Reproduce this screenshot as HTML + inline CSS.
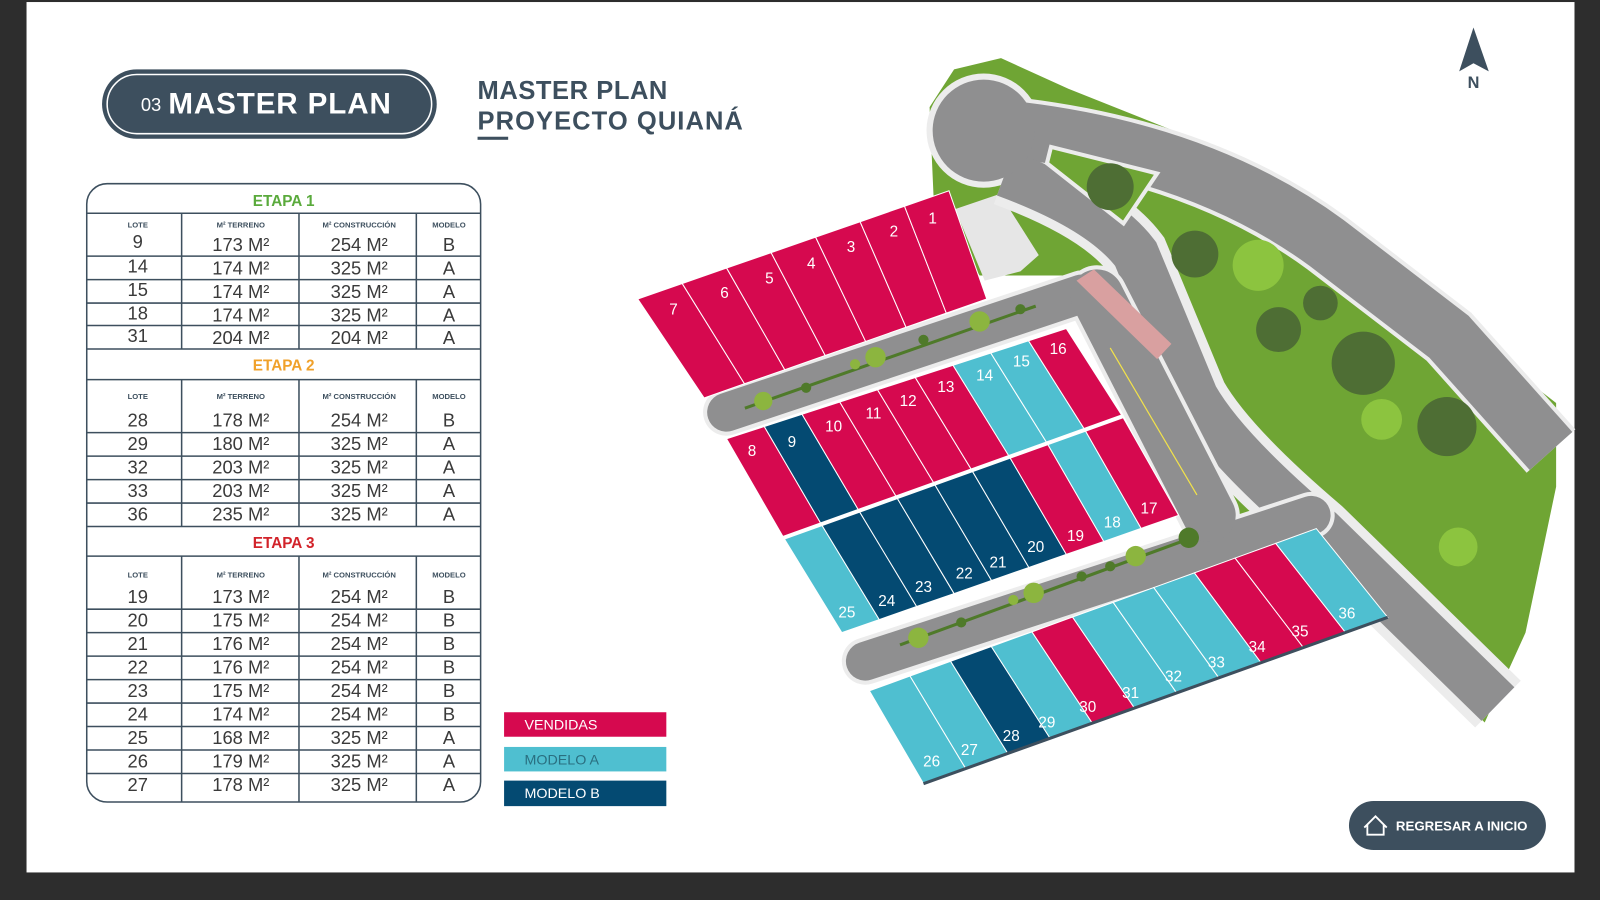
<!DOCTYPE html>
<html><head><meta charset="utf-8"><style>
html,body{margin:0;padding:0;background:#2d2d2d;width:1600px;height:900px;overflow:hidden}
svg{display:block}
text{font-family:"Liberation Sans",sans-serif}
.n{font-size:18px;fill:#3a3a3a;text-anchor:middle}
.h{font-size:7.5px;font-weight:bold;fill:#3d4f5e;text-anchor:middle}
.et{font-size:15px;font-weight:bold;text-anchor:middle}
.lb{font-size:15px;fill:#fff;text-anchor:middle}
</style></head><body>
<svg width="1600" height="900" viewBox="0 0 1568 882" preserveAspectRatio="none" xmlns="http://www.w3.org/2000/svg">
<rect x="0" y="0" width="1568" height="882" fill="#2d2d2d"/>
<rect x="26" y="2" width="1517" height="853" fill="#fff"/>

<!-- title pill -->
<rect x="100" y="68" width="328" height="68" rx="34" fill="#3d4f5e"/>
<rect x="105" y="73" width="318" height="58" rx="29" fill="none" stroke="#fff" stroke-width="1.5"/>
<text x="138" y="109" style="font-size:18px;fill:#fff">03</text>
<text x="165" y="111" textLength="218" style="font-size:29px;font-weight:bold;fill:#fff">MASTER PLAN</text>
<text x="468" y="97" textLength="186" style="font-size:25px;font-weight:bold;fill:#3d4f5e">MASTER PLAN</text>
<text x="468" y="127" textLength="260" style="font-size:25px;font-weight:bold;fill:#3d4f5e">PROYECTO QUIANÁ</text>
<rect x="468" y="134" width="30" height="3" fill="#3d4f5e"/>

<!-- table -->
<g stroke="#3d4f5e" stroke-width="1.5" fill="none">
<rect x="85" y="180" width="386" height="606" rx="20"/>
<line x1="85" y1="209" x2="471" y2="209"/>
<line x1="85" y1="251" x2="471" y2="251"/><line x1="85" y1="274" x2="471" y2="274"/><line x1="85" y1="297" x2="471" y2="297"/><line x1="85" y1="319" x2="471" y2="319"/><line x1="85" y1="342" x2="471" y2="342"/>
<line x1="85" y1="372" x2="471" y2="372"/>
<line x1="85" y1="424" x2="471" y2="424"/><line x1="85" y1="447" x2="471" y2="447"/><line x1="85" y1="470" x2="471" y2="470"/><line x1="85" y1="493" x2="471" y2="493"/><line x1="85" y1="516" x2="471" y2="516"/>
<line x1="85" y1="545" x2="471" y2="545"/>
<line x1="85" y1="597" x2="471" y2="597"/><line x1="85" y1="620" x2="471" y2="620"/><line x1="85" y1="643" x2="471" y2="643"/><line x1="85" y1="666" x2="471" y2="666"/><line x1="85" y1="689" x2="471" y2="689"/><line x1="85" y1="712" x2="471" y2="712"/><line x1="85" y1="735" x2="471" y2="735"/><line x1="85" y1="758" x2="471" y2="758"/>
<line x1="178" y1="209" x2="178" y2="342"/><line x1="293" y1="209" x2="293" y2="342"/><line x1="408" y1="209" x2="408" y2="342"/>
<line x1="178" y1="372" x2="178" y2="516"/><line x1="293" y1="372" x2="293" y2="516"/><line x1="408" y1="372" x2="408" y2="516"/>
<line x1="178" y1="545" x2="178" y2="786"/><line x1="293" y1="545" x2="293" y2="786"/><line x1="408" y1="545" x2="408" y2="786"/>
</g>
<text x="278" y="202" class="et" fill="#5aaa3c">ETAPA 1</text>
<text x="278" y="363" class="et" fill="#f0a12a">ETAPA 2</text>
<text x="278" y="537" class="et" fill="#d2232a">ETAPA 3</text>
<g>
<text x="135" y="223" class="h">LOTE</text><text x="236" y="223" class="h">M² TERRENO</text><text x="352" y="223" class="h">M² CONSTRUCCIÓN</text><text x="440" y="223" class="h">MODELO</text>
<text x="135" y="391" class="h">LOTE</text><text x="236" y="391" class="h">M² TERRENO</text><text x="352" y="391" class="h">M² CONSTRUCCIÓN</text><text x="440" y="391" class="h">MODELO</text>
<text x="135" y="566" class="h">LOTE</text><text x="236" y="566" class="h">M² TERRENO</text><text x="352" y="566" class="h">M² CONSTRUCCIÓN</text><text x="440" y="566" class="h">MODELO</text>
</g>
<g>
<text x="135" y="243" class="n">9</text><text x="236" y="246" class="n">173 M²</text><text x="352" y="246" class="n">254 M²</text><text x="440" y="246" class="n">B</text>
<text x="135" y="267" class="n">14</text><text x="236" y="269" class="n">174 M²</text><text x="352" y="269" class="n">325 M²</text><text x="440" y="269" class="n">A</text>
<text x="135" y="290" class="n">15</text><text x="236" y="292" class="n">174 M²</text><text x="352" y="292" class="n">325 M²</text><text x="440" y="292" class="n">A</text>
<text x="135" y="313" class="n">18</text><text x="236" y="315" class="n">174 M²</text><text x="352" y="315" class="n">325 M²</text><text x="440" y="315" class="n">A</text>
<text x="135" y="335" class="n">31</text><text x="236" y="337" class="n">204 M²</text><text x="352" y="337" class="n">204 M²</text><text x="440" y="337" class="n">A</text>

<text x="135" y="418" class="n">28</text><text x="236" y="418" class="n">178 M²</text><text x="352" y="418" class="n">254 M²</text><text x="440" y="418" class="n">B</text>
<text x="135" y="441" class="n">29</text><text x="236" y="441" class="n">180 M²</text><text x="352" y="441" class="n">325 M²</text><text x="440" y="441" class="n">A</text>
<text x="135" y="464" class="n">32</text><text x="236" y="464" class="n">203 M²</text><text x="352" y="464" class="n">325 M²</text><text x="440" y="464" class="n">A</text>
<text x="135" y="487" class="n">33</text><text x="236" y="487" class="n">203 M²</text><text x="352" y="487" class="n">325 M²</text><text x="440" y="487" class="n">A</text>
<text x="135" y="510" class="n">36</text><text x="236" y="510" class="n">235 M²</text><text x="352" y="510" class="n">325 M²</text><text x="440" y="510" class="n">A</text>

<text x="135" y="591" class="n">19</text><text x="236" y="591" class="n">173 M²</text><text x="352" y="591" class="n">254 M²</text><text x="440" y="591" class="n">B</text>
<text x="135" y="614" class="n">20</text><text x="236" y="614" class="n">175 M²</text><text x="352" y="614" class="n">254 M²</text><text x="440" y="614" class="n">B</text>
<text x="135" y="637" class="n">21</text><text x="236" y="637" class="n">176 M²</text><text x="352" y="637" class="n">254 M²</text><text x="440" y="637" class="n">B</text>
<text x="135" y="660" class="n">22</text><text x="236" y="660" class="n">176 M²</text><text x="352" y="660" class="n">254 M²</text><text x="440" y="660" class="n">B</text>
<text x="135" y="683" class="n">23</text><text x="236" y="683" class="n">175 M²</text><text x="352" y="683" class="n">254 M²</text><text x="440" y="683" class="n">B</text>
<text x="135" y="706" class="n">24</text><text x="236" y="706" class="n">174 M²</text><text x="352" y="706" class="n">254 M²</text><text x="440" y="706" class="n">B</text>
<text x="135" y="729" class="n">25</text><text x="236" y="729" class="n">168 M²</text><text x="352" y="729" class="n">325 M²</text><text x="440" y="729" class="n">A</text>
<text x="135" y="752" class="n">26</text><text x="236" y="752" class="n">179 M²</text><text x="352" y="752" class="n">325 M²</text><text x="440" y="752" class="n">A</text>
<text x="135" y="775" class="n">27</text><text x="236" y="775" class="n">178 M²</text><text x="352" y="775" class="n">325 M²</text><text x="440" y="775" class="n">A</text>
</g>

<!-- legend -->
<rect x="494" y="698" width="159" height="24" fill="#d6094f"/>
<text x="514" y="715" style="font-size:14px;fill:#fff">VENDIDAS</text>
<rect x="494" y="732" width="159" height="24" fill="#4fbfd0"/>
<text x="514" y="749" style="font-size:14px;fill:#2a6f80">MODELO A</text>
<rect x="494" y="765" width="159" height="25" fill="#044a72"/>
<text x="514" y="782" style="font-size:14px;fill:#fff">MODELO B</text>

<!-- button -->
<rect x="1322" y="785" width="193" height="48" rx="24" fill="#3d4f5e"/>
<path d="M1337 811 L1348 800 L1359 811 M1340 808 V818 H1356 V808" fill="none" stroke="#fff" stroke-width="1.8"/>
<text x="1368" y="814" style="font-size:13px;font-weight:bold;fill:#fff">REGRESAR A INICIO</text>

<!-- north -->
<path d="M1444 27 L1459 70 L1444 62 L1430 70 Z" fill="#3d4f5e"/>
<text x="1444" y="86" style="font-size:16px;font-weight:bold;fill:#3d4f5e;text-anchor:middle">N</text>

<!-- map: green base -->
<polygon points="911,105 935,68 981,57 1047,87 1180,140 1300,205 1400,280 1480,360 1525,395 1525,477 1495,620 1455,708 1330,580 1212,512 1113,310 1060,270 960,270 915,195" fill="#6fa534"/>
<polygon points="936,205 980,190 1018,250 1000,266 965,275" fill="#e6e6e6"/>
<!-- roads -->
<g fill="none" stroke="#ececec" stroke-width="64">
<path d="M1000 128 Q1180 150 1300 238 L1420 330 L1520 442"/>
<path d="M985 170 Q1080 205 1113 249 L1171 389 Q1200 440 1294 520 L1468 690"/>
</g>
<circle cx="964" cy="128" r="56" fill="#ececec"/>
<g fill="none" stroke="#8f8f90">
<path d="M1000 128 Q1180 150 1300 238 L1420 330 L1520 442" stroke-width="56"/>
<path d="M985 170 Q1080 205 1113 249 L1171 389 Q1200 440 1294 520 L1468 690" stroke-width="46"/>
</g>
<circle cx="964" cy="128" r="50" fill="#8f8f90"/>
<polygon points="1030,144 1134,170 1101,219 1026,160" fill="#6fa534" stroke="#ececec" stroke-width="4"/>
<circle cx="1088" cy="183" r="23" fill="#4e6e34"/>
<g fill="#4e6e34"><circle cx="1171" cy="249" r="23"/><circle cx="1294" cy="297" r="17"/><circle cx="1253" cy="323" r="22"/><circle cx="1336" cy="356" r="31"/><circle cx="1418" cy="418" r="29"/></g>
<g fill="#8cc43f"><circle cx="1233" cy="260" r="25"/><circle cx="1354" cy="411" r="20"/><circle cx="1429" cy="536" r="19"/></g>
<!-- internal roads -->
<g fill="none" stroke-linecap="round" stroke="#ececec" stroke-width="46">
<path d="M712 404 L1060 288"/><path d="M848 648 L1285 505"/>
</g>
<path d="M1075 290 L1185 505" stroke="#ececec" stroke-width="60" stroke-linecap="round"/>
<g fill="none" stroke-linecap="round" stroke="#8f8f90" stroke-width="38">
<path d="M712 404 L1060 288"/><path d="M848 648 L1285 505"/>
</g>
<path d="M1075 290 L1185 505" stroke="#8f8f90" stroke-width="52" stroke-linecap="round"/>
<polygon points="1055,275 1072,264 1148,337 1134,352" fill="#d9a0a0"/>
<line x1="1088" y1="341" x2="1173" y2="485" stroke="#f2e24a" stroke-width="1.2"/>
<g stroke="#4f7a2a" stroke-width="3"><line x1="730" y1="400" x2="1015" y2="300"/><line x1="882" y1="632" x2="1168" y2="527"/></g>
<g fill="#8cb53f"><circle cx="748" cy="393" r="9"/><circle cx="858" cy="350" r="10"/><circle cx="838" cy="357" r="5"/><circle cx="960" cy="315" r="10"/><circle cx="900" cy="625" r="10"/><circle cx="1013" cy="581" r="10"/><circle cx="993" cy="588" r="5"/><circle cx="1113" cy="545" r="10"/></g>
<g fill="#4f7a2a"><circle cx="790" cy="380" r="5"/><circle cx="905" cy="333" r="5"/><circle cx="1000" cy="303" r="5"/><circle cx="942" cy="610" r="5"/><circle cx="1060" cy="565" r="5"/><circle cx="1088" cy="555" r="5"/><circle cx="1165" cy="527" r="10"/></g>
<!-- lots -->
<g id="lots" stroke="#fff" stroke-width="1"></g>
<polyline points="768,527 1100,408" stroke="#fff" stroke-width="4"/>
<polyline points="905,768 1360,605" stroke="#3d4f5e" stroke-width="3"/>
<g class="lb">
<text x="660" y="308" class="lb">7</text><text x="710" y="292" class="lb">6</text><text x="754" y="278" class="lb">5</text><text x="795" y="263" class="lb">4</text><text x="834" y="247" class="lb">3</text><text x="876" y="232" class="lb">2</text><text x="914" y="219" class="lb">1</text>
<text x="737" y="447" class="lb">8</text><text x="776" y="438" class="lb">9</text><text x="817" y="423" class="lb">10</text><text x="856" y="410" class="lb">11</text><text x="890" y="398" class="lb">12</text><text x="927" y="384" class="lb">13</text><text x="965" y="373" class="lb">14</text><text x="1001" y="359" class="lb">15</text><text x="1037" y="347" class="lb">16</text>
<text x="830" y="605" class="lb">25</text><text x="869" y="594" class="lb">24</text><text x="905" y="580" class="lb">23</text><text x="945" y="567" class="lb">22</text><text x="978" y="556" class="lb">21</text><text x="1015" y="541" class="lb">20</text><text x="1054" y="530" class="lb">19</text><text x="1090" y="517" class="lb">18</text><text x="1126" y="503" class="lb">17</text>
<text x="913" y="751" class="lb">26</text><text x="950" y="740" class="lb">27</text><text x="991" y="726" class="lb">28</text><text x="1026" y="713" class="lb">29</text><text x="1066" y="698" class="lb">30</text><text x="1108" y="684" class="lb">31</text><text x="1150" y="668" class="lb">32</text><text x="1192" y="654" class="lb">33</text><text x="1232" y="639" class="lb">34</text><text x="1274" y="624" class="lb">35</text><text x="1320" y="606" class="lb">36</text>
</g>
</svg>
<script>
(function(){
var R="#d6094f",N="#044a72",C="#4fbfd0";
var g=document.getElementById("lots"),ns="http://www.w3.org/2000/svg";
function L(a,b,t){return [a[0]+(b[0]-a[0])*t,a[1]+(b[1]-a[1])*t];}
function row(T0,T1,B0,B1,cols){var n=cols.length;for(var i=0;i<n;i++){var p=[L(T0,T1,i/n),L(T0,T1,(i+1)/n),L(B0,B1,(i+1)/n),L(B0,B1,i/n)];var e=document.createElementNS(ns,"polygon");e.setAttribute("points",p.map(function(q){return q[0].toFixed(1)+","+q[1].toFixed(1)}).join(" "));e.setAttribute("fill",cols[i]);g.appendChild(e);}}
row([625,293],[930,187],[690,390],[967,293],[R,R,R,R,R,R,R]);
row([712,430],[1045,322],[768,527],[1100,408],[R,N,R,R,R,R,C,C,R]);
row([768,527],[1100,408],[825,620],[1155,505],[C,N,N,N,N,N,R,C,R]);
row([852,677],[1290,518],[905,768],[1360,605],[C,C,N,C,R,C,C,C,R,R,C]);
})();
</script>
</body></html>
